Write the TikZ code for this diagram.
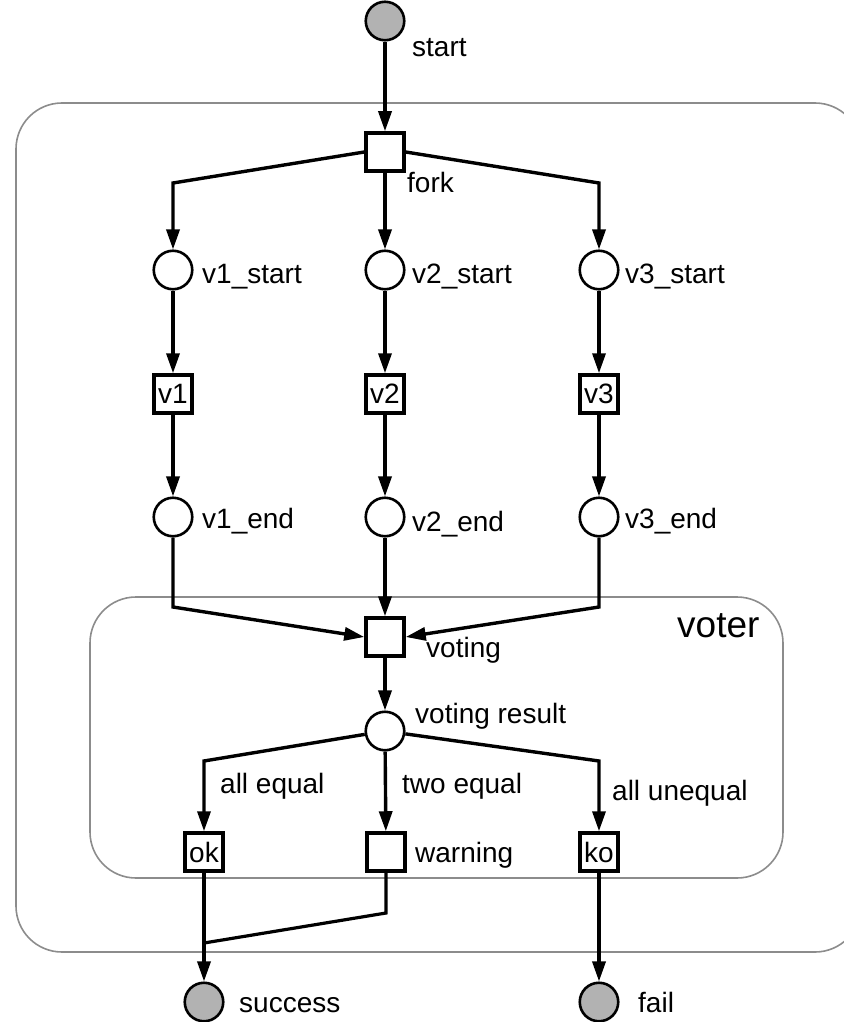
\documentclass[tikz,border=0pt]{standalone}
\usepackage{fontspec}
\setmainfont{Liberation Sans}
\usetikzlibrary{arrows.meta,positioning}

\begin{document}
\begin{tikzpicture}[x=1pt,y=-1pt,
		every node/.style={font=\fontsize{28}{32}\selectfont},
		place/.style={circle,draw,line width=2.6pt,fill=white,minimum size=38.5pt,inner sep=0pt},
		token/.style={place,fill=black!30},
		trans/.style={rectangle,draw,line width=4pt,fill=white,minimum size=37.5pt,inner sep=0pt},
		arc/.style={line width=3.4pt,-{Triangle[length=20pt,width=13pt]}},
		link/.style={line width=3.2pt},
		tag/.style={anchor=base west,inner sep=0pt},
		frame/.style={draw=black!45,line width=1.6pt,rounded corners=46pt}]
		\useasboundingbox (0,0) rectangle (843,1022);
		\draw [frame] (16,103) rectangle (861,952);
		\draw [frame] (90,597) rectangle (783,878);
		\node [tag,font=\fontsize{37}{40}\selectfont] (voter) at (677,637) {voter};
		\node [token] (start) at (385,21) {};
		\node [trans] (fork) at (385,152) {};
		\node [place] (vs1) at (173,270) {};
		\node [place] (vs2) at (385,270) {};
		\node [place] (vs3) at (599,270) {};
		\node [trans] (v1) at (173,394) {v1};
		\node [trans] (v2) at (385,394) {v2};
		\node [trans] (v3) at (599,394) {v3};
		\node [place] (ve1) at (173,517) {};
		\node [place] (ve2) at (385,517) {};
		\node [place] (ve3) at (599,517) {};
		\node [trans] (voting) at (385,637) {};
		\node [place] (result) at (385,731) {};
		\node [trans] (ok) at (204,852) {ok};
		\node [trans] (warning) at (386,852) {};
		\node [trans] (ko) at (599,852) {ko};
		\node [token] (success) at (204,1002) {};
		\node [token] (fail) at (599,1002) {};
		\node [tag] (l-start) at (412,57) {start};
		\node [tag] (l-fork) at (407,192) {fork};
		\node [tag] (l-vs1) at (202,283) {v1\_start};
		\node [tag] (l-vs2) at (412,283) {v2\_start};
		\node [tag] (l-vs3) at (625,283) {v3\_start};
		\node [tag] (l-ve1) at (202,528) {v1\_end};
		\node [tag] (l-ve2) at (412,531) {v2\_end};
		\node [tag] (l-ve3) at (625,528) {v3\_end};
		\node [tag] (l-voting) at (426,657) {voting};
		\node [tag] (l-result) at (415,723) {voting result};
		\node [tag] (l-all) at (220,793) {all equal};
		\node [tag] (l-two) at (402,793) {two equal};
		\node [tag] (l-none) at (612,800) {all unequal};
		\node [tag] (l-warning) at (415,862) {warning};
		\node [tag] (l-success) at (239,1012) {success};
		\node [tag] (l-fail) at (638,1012) {fail};
		\coordinate (f1) at (173,183);
		\coordinate (f3) at (599,183);
		\coordinate (j1) at (173,607);
		\coordinate (j3) at (599,607);
		\coordinate (r1) at (204,761);
		\coordinate (r3) at (599,761);
		\coordinate (w1) at (386,913);
		\coordinate (m1) at (204,943);
		\draw [arc] (start) -- (fork);
		\draw [arc] (fork.west) -- (f1) -- (vs1);
		\draw [arc] (fork) -- (vs2);
		\draw [arc] (fork.east) -- (f3) -- (vs3);
		\foreach \i in {1,2,3} {
			\draw [arc] (vs\i) -- (v\i);
			\draw [arc] (v\i) -- (ve\i);
		}
		\draw [arc] (ve1) -- (j1) -- (voting.west);
		\draw [arc] (ve2) -- (voting);
		\draw [arc] (ve3) -- (j3) -- (voting.east);
		\draw [arc] (voting) -- (result);
		\draw [arc] (result) -- (r1) -- (ok);
		\draw [arc] (result) -- (warning);
		\draw [arc] (result) -- (r3) -- (ko);
		\draw [arc] (ok) -- (success);
		\draw [link] (warning) -- (w1) -- (m1);
		\draw [arc] (ko) -- (fail);
\end{tikzpicture}
\end{document}
